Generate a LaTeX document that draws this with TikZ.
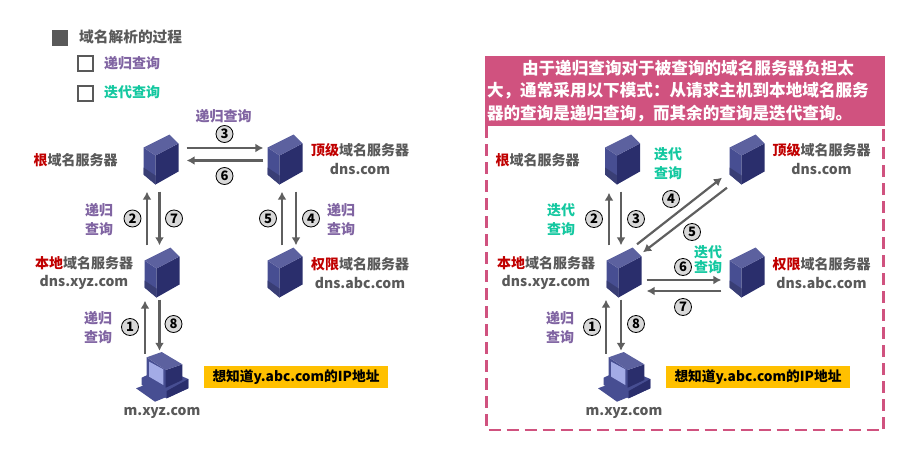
\documentclass[tikz,border=0pt]{standalone}
\usepackage{fontspec}
\setmainfont{Noto Sans CJK SC}
\usetikzlibrary{arrows.meta,positioning}

\definecolor{txtgray}{HTML}{595959}
\definecolor{arrgray}{HTML}{5F5F5F}
\definecolor{recpurple}{HTML}{8064A2}
\definecolor{itergreen}{HTML}{14C8A0}
\definecolor{namered}{HTML}{C00000}
\definecolor{notepink}{HTML}{D0527F}
\definecolor{noteyellow}{HTML}{FFC000}
\definecolor{devtop}{HTML}{5C619F}
\definecolor{devleft}{HTML}{474E92}
\definecolor{devright}{HTML}{2A2E6C}
\definecolor{devscreen}{HTML}{A3ABE6}

\tikzset{
  serverbox/.style={rectangle, minimum width=36pt, minimum height=51pt, inner sep=0pt},
  hostbox/.style={rectangle, minimum width=54pt, minimum height=50pt, inner sep=0pt},
  pics/serverpic/.style={code={
    \begin{scope}[shift={(-18,-25.5)}]
      \fill[devleft] (0,13) -- (12,21) -- (12,50) -- (0,40) -- cycle;
      \fill[devleft!80!black] (0,33) -- (12,41) -- (12,50) -- (0,40) -- cycle;
      \fill[devright] (12,21) -- (35,9) -- (35,37) -- (12,50) -- cycle;
      \fill[devtop] (0,13) -- (26,0) -- (35,9) -- (12,21) -- cycle;
    \end{scope}}},
  pics/hostpic/.style={code={
    \begin{scope}[shift={(-27,-25)}]
      \fill[devleft] (5.7,25.7) -- (26,16) -- (52.3,27) -- (52.3,36.3) -- (30.7,46.3) -- (5.7,33) -- cycle;
      \fill[devright] (30.7,39) -- (52.3,27) -- (52.3,36.3) -- (30.7,46.3) -- cycle;
      \fill[devleft] (0,36.3) -- (10.7,32.3) -- (29.7,45.3) -- (19,49.7) -- cycle;
      \fill[devleft] (10.7,5.3) -- (29.7,18) -- (29.7,35.7) -- (10.7,26) -- cycle;
      \fill[devright] (29.7,18) -- (46.3,12.3) -- (46.3,28) -- (29.7,35.7) -- cycle;
      \fill[devtop] (10.7,5.3) -- (25.7,0) -- (46.3,12.3) -- (29.7,18) -- cycle;
      \fill[devscreen] (13,9.6) -- (27.3,17.3) -- (27.3,33) -- (13,24.6) -- cycle;
    \end{scope}}},
  flowarrow/.style={-{Latex[length=8pt,width=9pt]}, line width=2.2pt, arrgray},
  numcircle/.style={circle, draw=black, fill=black!15, line width=0.8pt, minimum size=17pt, inner sep=0pt, font=\fontsize{13}{13}\selectfont\bfseries},
  nametext/.style={text=txtgray, align=center, inner sep=0pt, font=\fontsize{14}{18.5}\selectfont\bfseries},
  rectext/.style={text=recpurple, align=center, inner sep=0pt, font=\fontsize{14}{19}\selectfont\bfseries},
  itertext/.style={text=itergreen, align=center, inner sep=0pt, font=\fontsize{14}{19}\selectfont\bfseries},
  wantbox/.style={rectangle, fill=noteyellow, text=black, minimum width=184pt, minimum height=22pt, inner sep=0pt, font=\fontsize{13.7}{14}\selectfont\bfseries},
  tickbox/.style={rectangle, draw=txtgray, line width=2pt, minimum size=15pt, inner sep=0pt}
}
\newcommand{\redname}[1]{\textcolor{namered}{#1}}

\begin{document}
\begin{tikzpicture}[x=1pt, y=-1pt]
    \useasboundingbox (0,0) rectangle (908,450);

    % Heading
    \node[rectangle, fill=txtgray, minimum size=16pt, inner sep=0pt] (headmark) at (60,38) {};
    \node[nametext, anchor=west, font=\fontsize{14.7}{18}\selectfont\bfseries] (headtext) at (79,37) {域名解析的过程};
    \node[tickbox] (tickrec) at (85,63) {};
    \node[rectext, anchor=west] (ticktextrec) at (104,63) {递归查询};
    \node[tickbox] (tickiter) at (85,93) {};
    \node[itertext, anchor=west] (ticktextiter) at (104,92) {迭代查询};

    % Left servers
    \node[serverbox] (root) at (161.5,160) {};
    \pic at (root) {serverpic};
    \node[serverbox] (tld) at (285.5,160) {};
    \pic at (tld) {serverpic};
    \node[serverbox] (local) at (162.5,273) {};
    \pic at (local) {serverpic};
    \node[serverbox] (auth) at (285.5,273) {};
    \pic at (auth) {serverpic};
    \node[hostbox] (host) at (163,377) {};
    \pic at (host) {hostpic};

    % Left names
    \node[nametext] (rootname) at (75.5,160) {\redname{根}域名服务器};
    \node[nametext] (tldname) at (360,159) {\redname{顶级}域名服务器\\dns.com};
    \node[nametext] (localname) at (84,273) {\redname{本地}域名服务器\\dns.xyz.com};
    \node[nametext] (authname) at (360,273) {\redname{权限}域名服务器\\dns.abc.com};
    \node[nametext] (hostname) at (162,413) {m.xyz.com};
    \node[wantbox] (want) at (296,377) {想知道y.abc.com的IP地址};

    % Left labels
    \node[rectext] (recthree) at (223.5,116) {递归查询};
    \node[rectext] (rectwo) at (99,219.5) {递归\\查询};
    \node[rectext] (recfour) at (341,219.5) {递归\\查询};
    \node[rectext] (recone) at (98,327.5) {递归\\查询};

    % Left arrows
    \draw[flowarrow] ([shift={(7,-12)}]root.east) -- ([shift={(-4,-12)}]tld.west);
    \draw[flowarrow] ([shift={(-4,0.5)}]tld.west) -- ([shift={(7,0.5)}]root.east);
    \draw[flowarrow] ([shift={(-15.5,-2)}]local.north) -- ([shift={(-14.5,6)}]root.south);
    \draw[flowarrow] ([shift={(-2,6)}]root.south) -- ([shift={(-3,-2)}]local.north);
    \draw[flowarrow] ([shift={(-3.5,-2)}]auth.north) -- ([shift={(-3.5,6)}]tld.south);
    \draw[flowarrow] ([shift={(10.5,6)}]tld.south) -- ([shift={(10.5,-2)}]auth.north);
    \draw[flowarrow] ([shift={(-18,2)}]host.north) -- ([shift={(-17.5,2)}]local.south);
    \draw[flowarrow] ([shift={(-3,1)}]local.south) -- ([shift={(-3.5,-1)}]host.north);

    % Left numbers
    \node[numcircle] (numone) at (130,327) {1};
    \node[numcircle] (numtwo) at (132.5,218.5) {2};
    \node[numcircle] (numthree) at (224.5,134) {3};
    \node[numcircle] (numfour) at (311,218.5) {4};
    \node[numcircle] (numfive) at (268,218.5) {5};
    \node[numcircle] (numsix) at (224.5,176) {6};
    \node[numcircle] (numseven) at (174,218.5) {7};
    \node[numcircle] (numeight) at (173.5,324) {8};

    % Right panel
    \draw[notepink, line width=2.5pt, dash pattern=on 12pt off 6pt] (486.5,126) -- (486.5,430) -- (883.5,430) -- (883.5,126);
    \node[rectangle, fill=notepink, text=white, minimum width=400pt, minimum height=70pt, inner sep=0pt, text width=396pt, align=left, font=\fontsize{16.6}{22.4}\selectfont\bfseries] (note) at (685,91) {\hspace*{35pt}由于递归查询对于被查询的域名服务器负担太\\大，通常采用以下模式：从请求主机到本地域名服务\\器的查询是递归查询，而其余的查询是迭代查询。};

    % Right servers
    \node[serverbox] (rootb) at (623,160) {};
    \pic at (rootb) {serverpic};
    \node[serverbox] (tldb) at (747.5,160) {};
    \pic at (tldb) {serverpic};
    \node[serverbox] (localb) at (624.5,273) {};
    \pic at (localb) {serverpic};
    \node[serverbox] (authb) at (747.5,273) {};
    \pic at (authb) {serverpic};
    \node[hostbox] (hostb) at (625,377) {};
    \pic at (hostb) {hostpic};

    % Right names
    \node[nametext] (rootbname) at (537.5,160) {\redname{根}域名服务器};
    \node[nametext] (tldbname) at (821.5,159) {\redname{顶级}域名服务器\\dns.com};
    \node[nametext] (localbname) at (546,273) {\redname{本地}域名服务器\\dns.xyz.com};
    \node[nametext] (authbname) at (821.5,273) {\redname{权限}域名服务器\\dns.abc.com};
    \node[nametext] (hostbname) at (624,413) {m.xyz.com};
    \node[wantbox] (wantb) at (758,377) {想知道y.abc.com的IP地址};

    % Right labels
    \node[itertext] (iterfour) at (668,163.5) {迭代\\查询};
    \node[itertext] (itertwo) at (561,219.5) {迭代\\查询};
    \node[itertext] (itersix) at (708,259.5) {迭代\\[-4pt]查询};
    \node[rectext] (recbone) at (560,327.5) {递归\\查询};

    % Right arrows
    \draw[flowarrow] ([shift={(-15.5,-2)}]localb.north) -- ([shift={(-14,7)}]rootb.south);
    \draw[flowarrow] ([shift={(-2,6)}]rootb.south) -- ([shift={(-3.5,-2)}]localb.north);
    \draw[flowarrow] ([shift={(12.5,-3)}]localb.north) -- ([shift={(-25.5,-8)}]tldb.south);
    \draw[flowarrow] ([shift={(-20.5,2)}]tldb.south) -- ([shift={(18.5,5)}]localb.north);
    \draw[flowarrow] ([shift={(4,7)}]localb.east) -- ([shift={(-8,7)}]authb.west);
    \draw[flowarrow] ([shift={(-8,18)}]authb.west) -- ([shift={(4,18)}]localb.east);
    \draw[flowarrow] ([shift={(-19,2)}]hostb.north) -- ([shift={(-18.5,1)}]localb.south);
    \draw[flowarrow] ([shift={(-3.5,1)}]localb.south) -- ([shift={(-4,-1)}]hostb.north);

    % Right numbers
    \node[numcircle] (numbone) at (592,327) {1};
    \node[numcircle] (numbtwo) at (594,219) {2};
    \node[numcircle] (numbthree) at (636,219) {3};
    \node[numcircle] (numbfour) at (671,199) {4};
    \node[numcircle] (numbfive) at (692,232) {5};
    \node[numcircle] (numbsix) at (683,267) {6};
    \node[numcircle] (numbseven) at (683,307) {7};
    \node[numcircle] (numbeight) at (636,324) {8};
\end{tikzpicture}
\end{document}
